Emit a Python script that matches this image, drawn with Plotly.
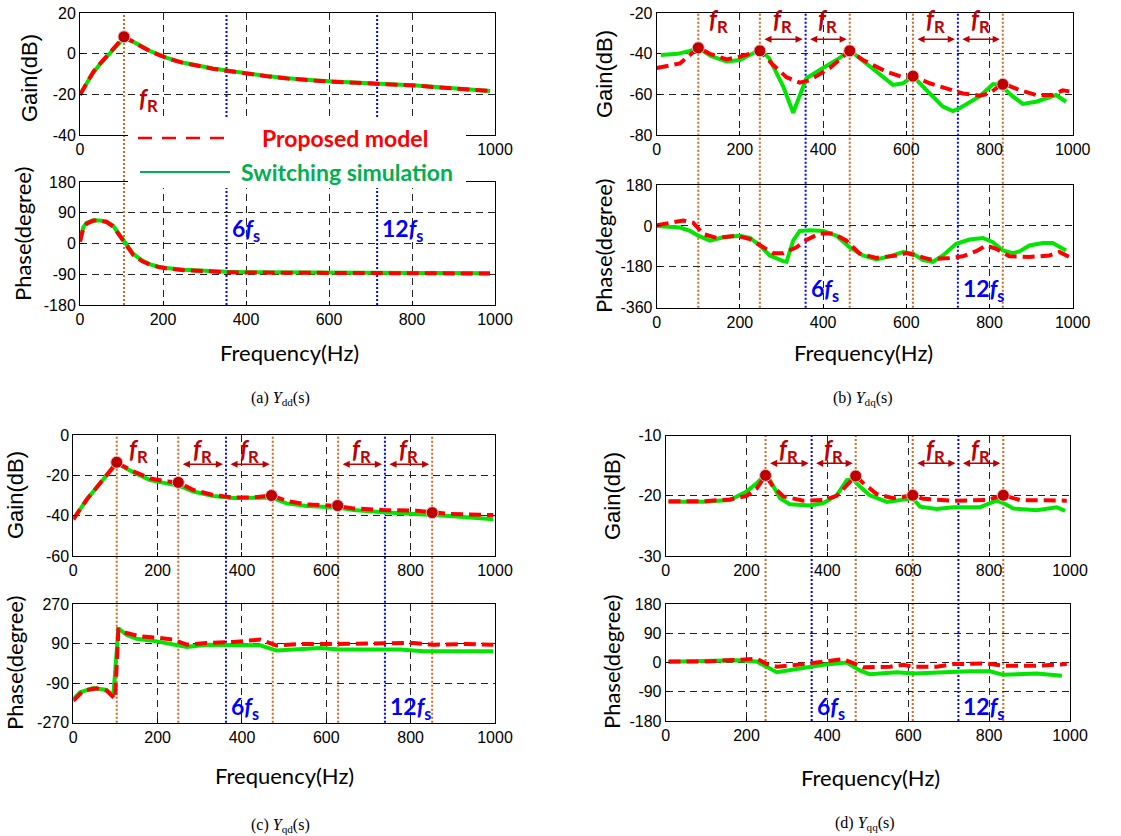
import plotly.graph_objects as go

W, H = 1121, 836

# ---------------- data ----------------
# (a) Ydd
a_gain_f = [0, 8, 16, 32, 48, 64, 80, 96, 106, 128, 150, 169, 190, 209, 250, 289, 320, 353, 400, 450, 500, 530, 570, 610, 660, 715, 760, 811, 850, 892, 940, 988]
a_gain_model = [-20.3, -17.5, -14.5, -9.0, -5.0, -1.4, 2.5, 6.0, 8.3, 5.8, 3.2, 1.2, -0.6, -2.2, -4.6, -6.3, -7.4, -8.4, -9.8, -11.1, -12.2, -12.8, -13.3, -13.8, -14.2, -14.7, -15.0, -15.7, -16.4, -17.0, -17.6, -18.3]
a_gain_sim = [-20.0, -17.3, -14.4, -9.2, -5.2, -1.6, 2.2, 5.6, 7.8, 5.9, 3.3, 1.3, -0.5, -2.1, -4.5, -6.2, -7.3, -8.3, -9.7, -11.0, -12.1, -12.7, -13.2, -13.7, -14.1, -14.6, -15.0, -15.6, -16.3, -16.9, -17.5, -18.4]
a_phase_f = [0, 8, 16, 32, 48, 64, 80, 96, 106, 128, 150, 169, 190, 209, 250, 289, 320, 353, 400, 500, 600, 700, 800, 900, 988]
a_phase_model = [5, 45, 58, 67, 67, 63, 50, 22, 3, -33, -52, -62, -69, -73, -78, -81, -83, -84, -85, -86, -87, -87, -88, -88, -88]
a_phase_sim = [8, 48, 60, 68, 67, 64, 52, 26, 8, -30, -50, -61, -68, -72, -77, -80, -82, -83, -84, -85, -85, -86, -87, -87, -87]
a_peak_f = [106]
a_peak_gain = [8.3]
a_fr_lines = [106]
a_fs_lines = [353, 716]

# (b) Ydq
b_gain_sim_f = [10, 50, 80, 100, 130, 168, 200, 230, 248, 270, 304, 328, 352, 360, 400, 440, 464, 512, 568, 592, 616, 648, 688, 712, 728, 776, 808, 824, 856, 880, 912, 960, 984]
b_gain_sim = [-40.5, -40, -38.5, -37, -41, -43.8, -43, -40, -38, -42, -56, -69, -56, -52, -47, -42, -38.2, -46, -55.3, -54.5, -51, -57.8, -66, -68.2, -66.8, -61, -55, -55, -61, -64.7, -63.6, -60.3, -63.6]
b_gain_model_f = [0, 56, 100, 128, 168, 200, 248, 280, 312, 344, 368, 416, 464, 496, 552, 592, 616, 656, 696, 736, 776, 800, 832, 872, 912, 952, 976, 992]
b_gain_model = [-47, -44.7, -37, -40, -42.7, -41.4, -38.5, -45.5, -51.5, -54.2, -52.9, -47, -38.5, -43, -48.8, -51.5, -51, -54.5, -57, -59.5, -60.6, -59.5, -54.5, -57.8, -60.3, -60.3, -58, -58.5]
b_phase_sim_f = [0, 56, 80, 100, 128, 160, 200, 224, 248, 272, 304, 312, 328, 344, 368, 400, 432, 464, 496, 528, 560, 592, 616, 640, 664, 688, 720, 752, 784, 808, 832, 856, 872, 896, 928, 952, 984]
b_phase_sim = [0, -7, -22, -43, -65, -50, -43, -53, -86, -130, -155, -158, -65, -22, -19, -22, -43, -94, -130, -148, -134, -115, -122, -151, -158, -130, -79, -60, -53, -72, -108, -120, -112, -86, -75, -75, -108]
b_phase_model_f = [0, 32, 64, 88, 112, 144, 192, 224, 248, 280, 304, 336, 360, 392, 424, 456, 488, 528, 576, 600, 624, 656, 704, 736, 768, 792, 816, 848, 896, 944, 968, 992]
b_phase_model = [3, 14, 24, 14, -36, -53, -43, -58, -86, -120, -120, -94, -62, -33, -33, -65, -122, -141, -130, -120, -130, -147, -141, -134, -111, -86, -101, -134, -137, -130, -115, -137]
b_peak_f = [100, 248, 464, 616, 832]
b_peak_gain = [-37, -38.5, -38.5, -51, -55]
b_fr_lines = [100, 248, 464, 616, 832]
b_fs_lines = [358, 724]

# (c) Yqd
c_gain_f = [0, 32, 63, 103, 142, 182, 221, 249, 285, 332, 379, 427, 470, 506, 553, 627, 664, 735, 814, 851, 893, 996]
c_gain_model = [-41.8, -32, -24, -13.7, -18, -21.5, -23, -23.5, -27.3, -29.8, -31, -31, -30, -32.7, -34.4, -35.2, -36.4, -37.2, -37.5, -38.3, -39.2, -39.7]
c_gain_sim = [-41.8, -32, -24, -14, -18.5, -22.3, -24, -25, -28, -30.2, -31.2, -31.2, -31, -33.9, -35.2, -36, -37.2, -38.3, -39.2, -39.7, -40.2, -41.8]
c_phase_sim_f = [0, 16, 47, 79, 95, 107, 126, 150, 198, 229, 269, 316, 379, 443, 482, 538, 585, 632, 775, 830, 996]
c_phase_sim = [-162, -132, -112, -121, -147, 160, 130, 112, 100, 90, 75, 85, 85, 82, 58, 67, 70, 63, 63, 55, 55]
c_phase_model_f = [0, 24, 55, 79, 99, 107, 126, 158, 206, 237, 269, 316, 379, 443, 482, 538, 617, 806, 854, 933, 996]
c_phase_model = [-170, -124, -114, -124, -162, 153, 138, 123, 115, 108, 85, 93, 97, 108, 81, 88, 88, 93, 85, 88, 85]
c_peak_f = [103, 249, 470, 627, 851]
c_peak_gain = [-13.5, -23.5, -30, -35, -38.5]
c_fr_lines = [103, 249, 473, 628, 851]
c_fs_lines = [362, 739]

# (d) Yqq
d_gain_model_f = [7, 93, 159, 200, 225, 247, 266, 291, 340, 390, 423, 448, 470, 489, 522, 563, 588, 611, 637, 711, 794, 835, 876, 992]
d_gain_model = [-20.9, -20.9, -20.6, -20, -18.8, -16.6, -18.5, -20.1, -20.8, -20.7, -20, -18.2, -16.7, -17.9, -19.7, -20.4, -20.2, -19.9, -20.5, -20.8, -20.7, -19.9, -20.7, -20.8]
d_gain_sim_f = [7, 93, 159, 200, 225, 242, 258, 283, 307, 357, 390, 423, 448, 464, 481, 505, 547, 588, 611, 629, 670, 711, 777, 802, 819, 835, 860, 918, 967, 988]
d_gain_sim = [-21, -21, -20.7, -19.3, -17.9, -16.8, -17.4, -20.4, -21.4, -21.6, -21.2, -19.9, -17.4, -17.3, -18.5, -19.9, -21, -20.7, -20.4, -21.8, -22.2, -21.9, -21.9, -21.2, -20.8, -21.2, -22.1, -22.4, -21.9, -22.5]
d_phase_model_f = [7, 93, 176, 225, 250, 275, 340, 390, 439, 470, 489, 555, 588, 611, 670, 711, 794, 835, 918, 992]
d_phase_model = [3, 3, 8, 12, -5, -13, -5, 3, 10, -5, -15, -13, -7, -13, -13, -5, -3, -10, -10, -5]
d_phase_sim_f = [7, 93, 176, 225, 250, 275, 340, 390, 448, 481, 505, 571, 613, 670, 753, 802, 835, 918, 980]
d_phase_sim = [2, 3, 7, 3, -15, -30, -17, -7, 0, -25, -36, -30, -34, -30, -27, -27, -38, -34, -41]
d_peak_f = [247, 470, 611, 835]
d_peak_gain = [-16.6, -16.7, -19.9, -19.9]
d_fr_lines = [247, 470, 611, 835]
d_fs_lines = [361, 724]

x_ticks = [0, 200, 400, 600, 800, 1000]
x_ticktext = ["0", "200", "400", "600", "800", "1000"]
# in panel (a) the legend box hides the inner tick labels of the gain axis
x_ticktext_a_gain = ["0", "", "", "", "", "1000"]
legend_names = ["Proposed model", "Switching simulation"]
captions = ["(a) ", "(b) ", "(c) ", "(d) "]
subs = ["dd", "dq", "qd", "qq"]

# ---------------- style ----------------
RED = "#ff0000"
GREEN = "#00e600"
LEG_GREEN = "#00b050"
MARK = "#c00000"
ORANGE = "#d2691e"
BLUE = "#0000ff"
DKRED = "#c00000"
TICKFONT = dict(family="Liberation Sans, Arial", size=16, color="black")
CAL = "Lato, Open Sans, sans-serif"

panels = [
    dict(gx=(80, 495), gy=(13, 135), py=(182, 305),
         gain=[(a_gain_f, a_gain_sim, a_gain_f, a_gain_model)],
         phase=[(a_phase_f, a_phase_sim, a_phase_f, a_phase_model)],
         peaks=(a_peak_f, a_peak_gain), fr=a_fr_lines, fs=a_fs_lines,
         grange=[-40, 20], gticks=[-40, -20, 0, 20], prange=[-180, 180], pticks=[-180, -90, 0, 90, 180],
         arrows=[], arrow_y=None, label_top=-13.5, label_shift=0, lone_fr=164, fs_y=42,
         gxtext=x_ticktext_a_gain,
         gtitle=(30, 78), ptitle=(23, 234), freq=(289, 352), cap=(280, 398)),
    dict(gx=(656.7, 1072.7), gy=(13.3, 135), py=(185, 307.7),
         gain=[(b_gain_sim_f, b_gain_sim, b_gain_model_f, b_gain_model)],
         phase=[(b_phase_sim_f, b_phase_sim, b_phase_model_f, b_phase_model)],
         peaks=(b_peak_f, b_peak_gain), fr=b_fr_lines, fs=b_fs_lines,
         grange=[-80, -20], gticks=[-80, -60, -40, -20], prange=[-360, 180], pticks=[-360, -180, 0, 180],
         arrows=[(248, 358), (358, 464), (616, 724), (724, 832)], arrow_y=-32.8, label_top=-20.1, label_shift=11,
         lone_fr=148, fs_y=-281, gxtext=x_ticktext,
         gtitle=(605, 74), ptitle=(604, 246), freq=(863, 352), cap=(863, 398)),
    dict(gx=(73.3, 495), gy=(435, 556), py=(604, 722.7),
         gain=[(c_gain_f, c_gain_sim, c_gain_f, c_gain_model)],
         phase=[(c_phase_sim_f, c_phase_sim, c_phase_model_f, c_phase_model)],
         peaks=(c_peak_f, c_peak_gain), fr=c_fr_lines, fs=c_fs_lines,
         grange=[-60, 0], gticks=[-60, -40, -20, 0], prange=[-270, 270], pticks=[-270, -90, 90, 270],
         arrows=[(249, 362), (362, 473), (628, 739), (739, 851)], arrow_y=-14.5, label_top=-0.1, label_shift=3,
         lone_fr=154, fs_y=-200, gxtext=x_ticktext,
         gtitle=(16, 495), ptitle=(14, 663), freq=(284, 775), cap=(280, 825)),
    dict(gx=(665.7, 1070), gy=(435.7, 556), py=(604, 721),
         gain=[(d_gain_sim_f, d_gain_sim, d_gain_model_f, d_gain_model)],
         phase=[(d_phase_sim_f, d_phase_sim, d_phase_model_f, d_phase_model)],
         peaks=(d_peak_f, d_peak_gain), fr=d_fr_lines, fs=d_fs_lines,
         grange=[-30, -10], gticks=[-30, -20, -10], prange=[-180, 180], pticks=[-180, -90, 0, 90, 180],
         arrows=[(247, 361), (361, 470), (611, 724), (724, 835)], arrow_y=-14.6, label_top=-10.05, label_shift=4,
         lone_fr=None, fs_y=-137, gxtext=x_ticktext,
         gtitle=(612, 496), ptitle=(611, 662), freq=(870, 777), cap=(865, 823)),
]

fig = go.Figure()
shapes = []
annotations = []
layout = {}

def axname(i):
    return "" if i == 1 else str(i)

def paper_text(x, y, text, font, angle=0):
    return dict(x=x / W, y=1 - y / H, xref="paper", yref="paper", xanchor="center", yanchor="middle",
                text=text, textangle=angle, showarrow=False, font=font)

FR_TXT = "<b><i>f</i><sub>R</sub></b>"
AXKW = dict(showline=True, mirror=True, linecolor="black", linewidth=1, ticks="inside", ticklen=4,
            tickcolor="black", tickfont=TICKFONT, showgrid=True, gridcolor="#222", griddash="7px,5px",
            gridwidth=1, zeroline=False, automargin=False)

for k, p in enumerate(panels):
    gi, pi = 2 * k + 1, 2 * k + 2
    for idx, ydom, yr, yt, xtt in [(gi, p["gy"], p["grange"], p["gticks"], p["gxtext"]),
                                   (pi, p["py"], p["prange"], p["pticks"], x_ticktext)]:
        n = axname(idx)
        layout["xaxis" + n] = dict(domain=[p["gx"][0] / W, p["gx"][1] / W], range=[0, 1000], tickvals=x_ticks,
                                  ticktext=xtt, anchor="y" + n, **AXKW)
        layout["yaxis" + n] = dict(domain=[1 - ydom[1] / H, 1 - ydom[0] / H], range=yr, tickvals=yt,
                                  ticktext=[str(v) for v in yt], anchor="x" + n, **AXKW)
    gx, gy = "x" + axname(gi), "y" + axname(gi)
    px_, py_ = "x" + axname(pi), "y" + axname(pi)
    for (fs_, vs_, fm_, vm_) in p["gain"]:
        fig.add_trace(go.Scatter(x=fs_, y=vs_, xaxis=gx, yaxis=gy, mode="lines", showlegend=False,
                                 line=dict(color=GREEN, width=4)))
        fig.add_trace(go.Scatter(x=fm_, y=vm_, xaxis=gx, yaxis=gy, mode="lines", showlegend=False,
                                 line=dict(color=RED, width=4, dash="12px,6px")))
    for (fs_, vs_, fm_, vm_) in p["phase"]:
        fig.add_trace(go.Scatter(x=fs_, y=vs_, xaxis=px_, yaxis=py_, mode="lines", showlegend=False,
                                 line=dict(color=GREEN, width=4)))
        fig.add_trace(go.Scatter(x=fm_, y=vm_, xaxis=px_, yaxis=py_, mode="lines", showlegend=False,
                                 line=dict(color=RED, width=4, dash="12px,6px")))
    fig.add_trace(go.Scatter(x=p["peaks"][0], y=p["peaks"][1], xaxis=gx, yaxis=gy, mode="markers", showlegend=False,
                             marker=dict(color=MARK, size=12, line=dict(color="#e8c0c0", width=1))))
    ytop = 1 - p["gy"][0] / H
    ybot = 1 - p["py"][1] / H
    for f in p["fr"]:
        shapes.append(dict(type="line", xref=gx, yref="paper", x0=f, x1=f, y0=ybot, y1=ytop, layer="below",
                           line=dict(color=ORANGE, width=2, dash="2px,2px")))
    for f in p["fs"]:
        shapes.append(dict(type="line", xref=gx, yref="paper", x0=f, x1=f, y0=ybot, y1=ytop, layer="below",
                           line=dict(color=BLUE, width=2, dash="2px,2px")))
    # fR arrows and labels
    lab_kw = dict(xref=gx, yref=gy, text=FR_TXT, showarrow=False, xanchor="center", yanchor="top",
                  yshift=p["label_shift"], font=dict(family=CAL, size=24, color=DKRED))
    for (f0, f1) in p["arrows"]:
        annotations.append(dict(x=f1, y=p["arrow_y"], ax=f0, ay=p["arrow_y"], xref=gx, yref=gy, axref=gx, ayref=gy,
                                text="", showarrow=True, arrowhead=2, startarrowhead=2, arrowside="end+start",
                                arrowsize=0.95, startarrowsize=0.95, arrowwidth=1.5, arrowcolor=DKRED,
                                standoff=3, startstandoff=3))
        annotations.append(dict(x=(f0 + f1) / 2, y=p["label_top"], **lab_kw))
    if p["lone_fr"] is not None:
        annotations.append(dict(x=p["lone_fr"], y=p["label_top"], **lab_kw))
    # 6fs / 12fs labels
    for f, lab in zip(p["fs"], ["6", "12"]):
        annotations.append(dict(x=f, y=p["fs_y"], xref=px_, yref=py_, xanchor="left", yanchor="middle", xshift=3,
                                text="<b>" + lab + "<i>f</i><sub>s</sub></b>", showarrow=False,
                                font=dict(family=CAL, size=23, color=BLUE)))
    # titles
    annotations.append(paper_text(p["gtitle"][0], p["gtitle"][1], "Gain(dB)",
                                  dict(family="Liberation Sans, Arial", size=22, color="black"), -90))
    annotations.append(paper_text(p["ptitle"][0], p["ptitle"][1], "Phase(degree)",
                                  dict(family=CAL, size=22, color="black"), -90))
    annotations.append(paper_text(p["freq"][0], p["freq"][1], "Frequency(Hz)",
                                  dict(family=CAL, size=22, color="black")))
    annotations.append(paper_text(p["cap"][0], p["cap"][1],
                                  captions[k] + "<i>Y</i><sub>" + subs[k] + "</sub>(s)",
                                  dict(family="Liberation Serif, Times New Roman", size=16, color="black")))

# manual legend for panel (a)
shapes.append(dict(type="rect", xref="paper", yref="paper", x0=128 / W, x1=466 / W, y0=1 - 188 / H, y1=1 - 118 / H,
                   fillcolor="white", line=dict(width=0), layer="above"))
shapes.append(dict(type="line", xref="paper", yref="paper", x0=138 / W, x1=230 / W, y0=1 - 138 / H, y1=1 - 138 / H,
                   line=dict(color=RED, width=2.5, dash="14px,10px"), layer="above"))
shapes.append(dict(type="line", xref="paper", yref="paper", x0=140 / W, x1=230 / W, y0=1 - 172 / H, y1=1 - 172 / H,
                   line=dict(color=LEG_GREEN, width=2), layer="above"))
annotations.append(paper_text(345, 138, "<b>" + legend_names[0] + "</b>", dict(family=CAL, size=23, color=RED)))
annotations.append(paper_text(347, 172, "<b>" + legend_names[1] + "</b>", dict(family=CAL, size=23, color=LEG_GREEN)))

fig.update_layout(width=W, height=H, autosize=False,
                  margin=dict(l=0, r=0, t=0, b=0, pad=0, autoexpand=False),
                  paper_bgcolor="white", plot_bgcolor="rgba(0,0,0,0)", showlegend=False,
                  shapes=shapes, annotations=annotations, **layout)
fig.write_html("out.html", config={"displayModeBar": False}, post_script=[
    "document.body.style.margin='0';document.body.style.padding='0';"
    "document.documentElement.style.overflow='hidden';"
])
